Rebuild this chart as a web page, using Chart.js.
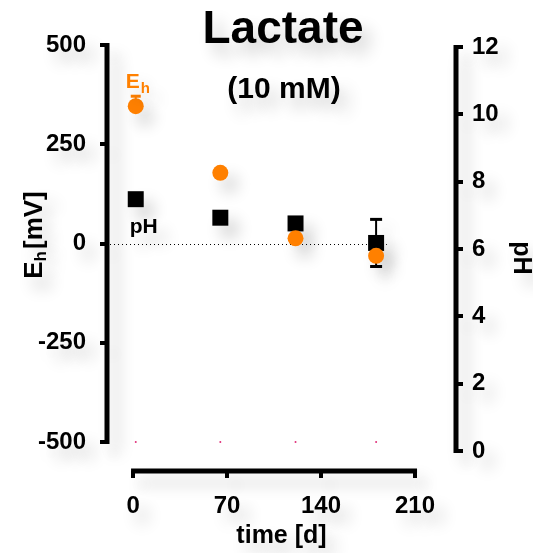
<!DOCTYPE html>
<html>
<head>
<meta charset="utf-8">
<script src="https://cdn.jsdelivr.net/npm/chart.js@4"></script>
<style>
html, body { margin: 0; padding: 0; background: #fff; }
canvas { display: block; }
</style>
</head>
<body>
<canvas id="chart" width="533" height="553"></canvas>
<script>
// values
const days = [2, 65, 121, 181];
const ehValues = [346, 178, 13, -31];
const ehErrorsUp = [25, 0, 0, 0];
const ehErrorsDown = [0, 0, 0, 0];
const phValues = [7.48, 6.93, 6.76, 6.18];
const phErrorsUp = [0, 0, 0, 0.7];
const phErrorsDown = [0, 0, 0, 0.7];
const baseValues = [-500, -500, -500, -500];

const timeTicks = [0, 70, 140, 210];
const ehTicks = [-500, -250, 0, 250, 500];
const phTicks = [0, 2, 4, 6, 8, 10, 12];

const FONT = "'Liberation Sans', Arial, sans-serif";
const ORANGE = "#ff8000";

function toPoints(ys) {
    return days.map((d, i) => ({ x: d, y: ys[i] }));
}

function setTicks(list) {
    return axis => {
        axis.ticks = list.map(v => ({ value: v }));
    };
}

function fixSize(prop, size) {
    return axis => {
        axis[prop] = size;
    };
}

const decor = {
    id: "decor",

    beforeDraw(chart) {
        const ctx = chart.ctx;
        ctx.shadowColor = "rgba(0,0,0,0.2)";
        ctx.shadowBlur = 16;
        ctx.shadowOffsetX = 9;
        ctx.shadowOffsetY = 11;
    },

    beforeDatasetsDraw(chart) {
        const { ctx, chartArea, scales } = chart;
        const x = scales.x, yL = scales.y, yR = scales.y1;

        ctx.save();
        ctx.strokeStyle = "#000";
        ctx.lineCap = "butt";
        ctx.lineWidth = 5;

        // detached axis lines
        ctx.beginPath();
        ctx.moveTo(chartArea.left, yL.getPixelForValue(500) - 2);
        ctx.lineTo(chartArea.left, yL.getPixelForValue(-500) + 2);
        ctx.moveTo(chartArea.right, yR.getPixelForValue(12) - 2);
        ctx.lineTo(chartArea.right, yR.getPixelForValue(0) + 2);
        ctx.moveTo(x.getPixelForValue(0) - 2, chartArea.bottom);
        ctx.lineTo(x.getPixelForValue(210) + 2, chartArea.bottom);
        ctx.stroke();

        // dotted zero line
        ctx.shadowColor = "transparent";
        ctx.lineWidth = 1;
        ctx.setLineDash([1, 3]);
        const y0 = Math.round(yL.getPixelForValue(0)) + 0.5;
        ctx.beginPath();
        ctx.moveTo(chartArea.left + 3, y0);
        ctx.lineTo(x.getPixelForValue(days[days.length - 1] + 8), y0);
        ctx.stroke();
        ctx.setLineDash([]);
        ctx.restore();

        // error bars
        ctx.save();
        function bars(values, up, down, scale, color, cap) {
            ctx.strokeStyle = color;
            values.forEach((v, i) => {
                const px = x.getPixelForValue(days[i]);
                const mid = scale.getPixelForValue(v);
                [up[i], -down[i]].forEach(e => {
                    if (!e) return;
                    const end = scale.getPixelForValue(v + e);
                    ctx.lineWidth = 2;
                    ctx.beginPath();
                    ctx.moveTo(px, mid);
                    ctx.lineTo(px, end);
                    ctx.stroke();
                    ctx.lineWidth = 3;
                    ctx.beginPath();
                    ctx.moveTo(px - cap, end);
                    ctx.lineTo(px + cap, end);
                    ctx.stroke();
                });
            });
        }
        bars(phValues, phErrorsUp, phErrorsDown, yR, "#000", 6);
        bars(ehValues, ehErrorsUp, ehErrorsDown, yL, ORANGE, 5);
        ctx.restore();
    },

    afterDatasetsDraw(chart) {
        const { ctx, chartArea, scales } = chart;
        const x = scales.x, yL = scales.y, yR = scales.y1;

        ctx.save();
        ctx.fillStyle = "#000";
        ctx.textAlign = "center";
        ctx.textBaseline = "alphabetic";

        ctx.font = "bold 46px " + FONT;
        ctx.fillText("Lactate", 283, 43);
        ctx.font = "bold 30px " + FONT;
        ctx.fillText("(10 mM)", 284, 98);

        // series labels next to the first points
        const px = x.getPixelForValue(days[0]);
        ctx.textAlign = "left";
        ctx.fillStyle = ORANGE;
        ctx.font = "bold 21px " + FONT;
        const ey = yL.getPixelForValue(ehValues[0]) - 18;
        ctx.fillText("E", px - 10, ey);
        const ew = ctx.measureText("E").width;
        ctx.font = "bold 15px " + FONT;
        ctx.fillText("h", px - 10 + ew + 1, ey + 5);

        ctx.fillStyle = "#000";
        ctx.font = "bold 21px " + FONT;
        ctx.fillText("pH", px - 6, yR.getPixelForValue(phValues[0]) + 34);

        // left axis title with subscript
        ctx.translate(35, (chartArea.top + chartArea.bottom) / 2 - 23);
        ctx.rotate(-Math.PI / 2);
        ctx.textBaseline = "middle";
        ctx.font = "bold 26px " + FONT;
        const wE = ctx.measureText("E").width;
        const wB = ctx.measureText("[mV]").width;
        ctx.font = "bold 17px " + FONT;
        const wH = ctx.measureText("h").width;
        let cx = -(wE + wH + wB + 2) / 2;
        ctx.font = "bold 26px " + FONT;
        ctx.fillText("E", cx, 0);
        cx += wE;
        ctx.font = "bold 17px " + FONT;
        ctx.fillText("h", cx, 6);
        cx += wH + 2;
        ctx.font = "bold 26px " + FONT;
        ctx.fillText("[mV]", cx, 0);
        ctx.restore();
    },

    afterDraw(chart) {
        const ctx = chart.ctx;
        ctx.shadowColor = "transparent";
        ctx.shadowBlur = 0;
        ctx.shadowOffsetX = 0;
        ctx.shadowOffsetY = 0;
    }
};

const tickFont = { family: FONT, size: 24, weight: "bold" };
const tickGrid = {
    drawOnChartArea: false,
    drawTicks: true,
    tickLength: 7,
    color: "#000",
    lineWidth: 4
};

new Chart(document.getElementById("chart"), {
    type: "scatter",
    data: {
        datasets: [
            {
                label: "Eh",
                data: toPoints(ehValues),
                yAxisID: "y",
                pointStyle: "circle",
                pointRadius: 8,
                pointBorderWidth: 0,
                backgroundColor: ORANGE
            },
            {
                label: "pH",
                data: toPoints(phValues),
                yAxisID: "y1",
                pointStyle: "rect",
                pointRadius: 11.3,
                pointBorderWidth: 0,
                backgroundColor: "#000"
            },
            {
                label: "base",
                data: toPoints(baseValues),
                yAxisID: "y",
                pointStyle: "circle",
                pointRadius: 1,
                pointBorderWidth: 0,
                backgroundColor: "#e0307a"
            }
        ]
    },
    options: {
        responsive: false,
        animation: false,
        events: [],
        layout: {
            padding: { top: 45, left: 0, right: 0, bottom: 0 }
        },
        plugins: {
            legend: { display: false },
            tooltip: { enabled: false }
        },
        scales: {
            x: {
                type: "linear",
                position: "bottom",
                min: -19.4,
                max: 240.5,
                afterBuildTicks: setTicks(timeTicks),
                afterFit: fixSize("height", 82),
                border: { display: false },
                grid: tickGrid,
                ticks: {
                    font: tickFont,
                    color: "#000",
                    padding: 14,
                    maxRotation: 0,
                    callback: v => String(v)
                },
                title: {
                    display: true,
                    text: "time [d]",
                    color: "#000",
                    font: { family: FONT, size: 25, weight: "bold", lineHeight: 1 },
                    padding: { top: 0, bottom: 4 }
                }
            },
            y: {
                type: "linear",
                position: "left",
                min: -573,
                max: 500,
                afterBuildTicks: setTicks(ehTicks),
                afterFit: fixSize("width", 107),
                border: { display: false },
                grid: tickGrid,
                ticks: {
                    font: tickFont,
                    color: "#000",
                    padding: 14,
                    callback: v => String(v)
                }
            },
            y1: {
                type: "linear",
                position: "right",
                min: -0.594,
                max: 12.06,
                afterBuildTicks: setTicks(phTicks),
                afterFit: fixSize("width", 77),
                border: { display: false },
                grid: tickGrid,
                ticks: {
                    font: tickFont,
                    color: "#000",
                    padding: 9,
                    callback: v => String(v)
                },
                title: {
                    display: true,
                    text: "pH",
                    color: "#000",
                    font: { family: FONT, size: 25, weight: "bold", lineHeight: 1 },
                    padding: { top: 0, bottom: 0 }
                }
            }
        }
    },
    plugins: [decor]
});
</script>
</body>
</html>
